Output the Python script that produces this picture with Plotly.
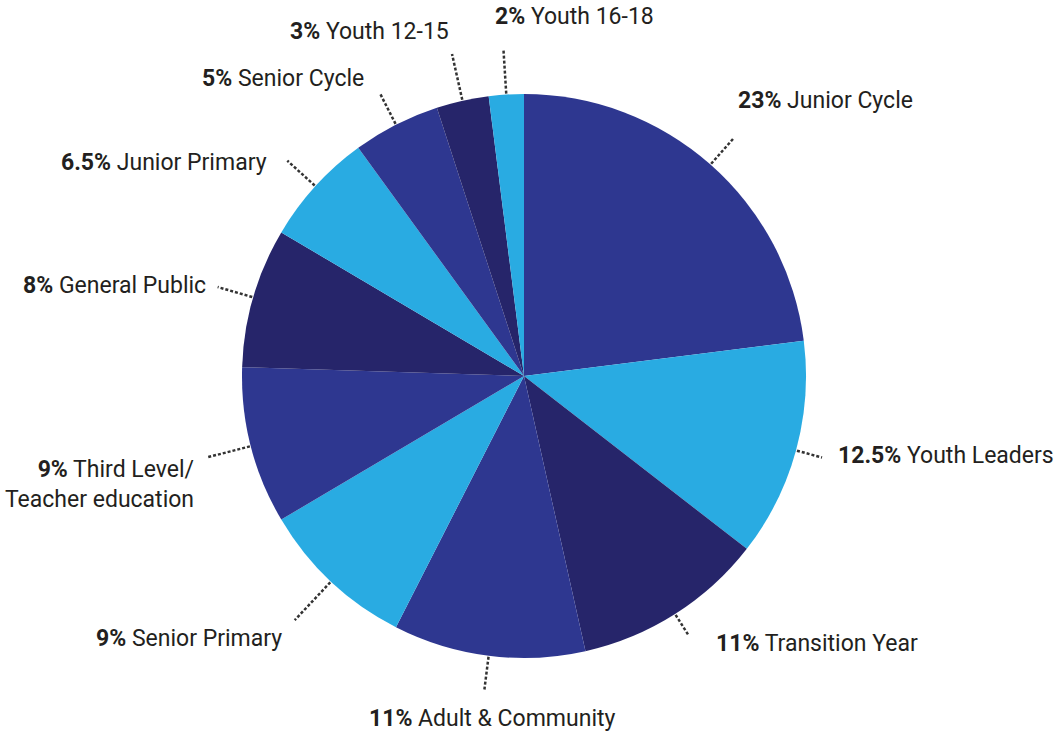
import math
import plotly.graph_objects as go

# ---- data ----
categories = ["Junior Cycle", "Youth Leaders", "Transition Year", "Adult & Community",
              "Senior Primary", "Third Level/<br>Teacher education", "General Public",
              "Junior Primary", "Senior Cycle", "Youth 12-15", "Youth 16-18"]
percent_labels = ["23%", "12.5%", "11%", "11%", "9%", "9%", "8%", "6.5%", "5%", "3%", "2%"]
values = [23, 12.5, 11, 11, 9, 9, 8, 6.5, 5, 3, 2]

# ---- styling / layout ----
MED, LIGHT, NAVY = "#2e3790", "#29abe2", "#26256a"
colors = [MED, LIGHT, NAVY, MED, LIGHT, MED, NAVY, LIGHT, MED, NAVY, LIGHT]
W, H = 1060, 734
CX, CY, R = 524, 376, 282
# leader line outer radius per slice
leader_r = [318, 309, 308, 318, 335, 328, 319, 320, 316, 330, 327]
# text anchor positions (pixels) and anchors
text_pos = [(736, 100), (836, 456), (714, 643), (492, 718), (284, 638), (196, 484),
            (208, 285), (269, 162), (366, 78), (451, 32), (493, 17)]
text_xanchor = ["left", "left", "left", "center", "right", "right",
                "right", "right", "right", "right", "left"]
FONT = "Roboto, Liberation Sans Narrow, DejaVu Sans Condensed, sans-serif"
TEXT_COLOR = "#231f20"

fig = go.Figure()
fig.add_trace(go.Pie(
    labels=[c.replace("<br>", " ") for c in categories],
    values=values,
    sort=False,
    direction="clockwise",
    rotation=0,
    marker=dict(colors=colors, line=dict(width=0)),
    textinfo="none",
    hoverinfo="label+value",
    showlegend=False,
    domain=dict(x=[(CX - R) / W, (CX + R) / W],
                y=[(H - CY - R) / H, (H - CY + R) / H]),
))

def px2paper(x, y):
    return x / W, 1 - y / H

total = sum(values)
cum = 0.0
shapes, annotations = [], []
for i, v in enumerate(values):
    mid = (cum + v / 2) / total * 2 * math.pi
    cum += v
    sx, sy = CX + (R + 1) * math.sin(mid), CY - (R + 1) * math.cos(mid)
    ex, ey = CX + leader_r[i] * math.sin(mid), CY - leader_r[i] * math.cos(mid)
    x0, y0 = px2paper(sx, sy)
    x1, y1 = px2paper(ex, ey)
    shapes.append(dict(type="line", xref="paper", yref="paper", x0=x0, y0=y0, x1=x1, y1=y1,
                       line=dict(color="#333333", width=2.5, dash="3px,2px")))
    tx, ty = px2paper(*text_pos[i])
    annotations.append(dict(
        xref="paper", yref="paper", x=tx, y=ty, xanchor=text_xanchor[i], yanchor="middle",
        text=f"<b>{percent_labels[i]}</b> {categories[i]}", showarrow=False,
        align="right" if text_xanchor[i] == "right" else "left",
        font=dict(family=FONT, size=23, color=TEXT_COLOR),
    ))

fig.update_layout(
    width=W, height=H,
    margin=dict(l=0, r=0, t=0, b=0),
    paper_bgcolor="white", plot_bgcolor="white",
    shapes=shapes, annotations=annotations,
)
fig.write_html("out.html")
